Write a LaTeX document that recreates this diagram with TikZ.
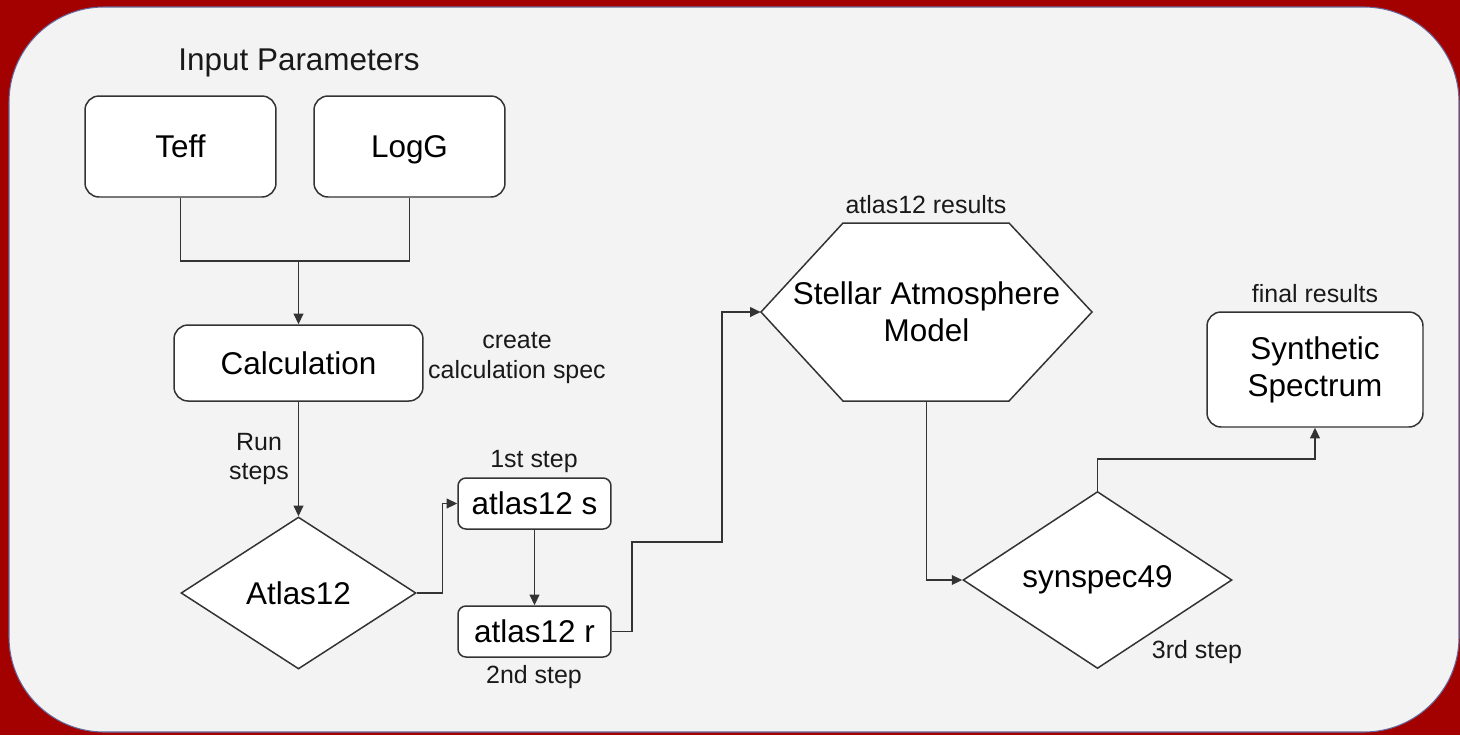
\documentclass[tikz,border=0pt]{standalone}
\usepackage{fontspec}
\setmainfont{Liberation Sans}
\usepackage{tikz}
\usetikzlibrary{arrows.meta, shapes.geometric, positioning}
\definecolor{slidered}{RGB}{163,0,0}
\definecolor{panelgray}{RGB}{243,243,243}
\definecolor{edgegray}{RGB}{51,51,51}
\newcommand{\bigtxt}{\fontsize{17.9pt}{21pt}\selectfont}
\newcommand{\smalltxt}{\fontsize{14.2pt}{17pt}\selectfont}

\begin{document}
\begin{tikzpicture}[x=0.02cm, y=-0.02cm,
  box/.style={rectangle, rounded corners=8pt, draw=edgegray, line width=0.85pt, fill=white, font=\bigtxt, align=center, inner sep=0pt},
  onerow/.style={text height=12.8pt, text depth=0pt},
  smallbox/.style={box, onerow, rounded corners=4.5pt, minimum width=3.06cm, minimum height=1.02cm},
  decision/.style={diamond, draw=edgegray, line width=0.85pt, fill=white, font=\bigtxt, inner sep=0pt},
  note/.style={font=\smalltxt, align=center, text=black!90},
  wire/.style={draw=edgegray, line width=0.85pt},
  arr/.style={wire, -{Triangle[length=6pt, width=5.5pt]}}
]
\useasboundingbox (0,0) rectangle (1460,735);
% --- slide background and panel ---
\fill[slidered] (0,0) rectangle (1460,735);
\draw[draw=gray!80!blue, line width=0.6pt, fill=panelgray, rounded corners=1.9cm] (9,7) rectangle (1459,732);

% --- input side ---
\node[font=\bigtxt, onerow, text=black!90] (title) at (299,59) {Input Parameters};
\node[box, onerow, minimum width=3.82cm, minimum height=2.02cm] (teff) at (180.5,146.5) {Teff};
\node[box, onerow, minimum width=3.82cm, minimum height=2.02cm] (logg) at (409.5,146.5) {LogG};
\coordinate (join) at (298.5,261);
\node[box, onerow, minimum width=4.98cm, minimum height=1.52cm] (calc) at (298.5,363) {Calculation};
\node[note] (spec) at (517,358) {create\\calculation spec};
\node[note] (run) at (259,459) {Run\\steps};
\node[decision, minimum width=4.7cm, minimum height=3.04cm, aspect=1.55] (atlas) at (298.5,593) {Atlas12};

% --- atlas12 steps ---
\node[smallbox] (s) at (534.5,503.5) {atlas12 s};
\node[note] (first) at (534,461) {1st step};
\node[smallbox] (r) at (534.5,631.5) {atlas12 r};
\node[note] (second) at (534,677) {2nd step};
\coordinate (up1) at (632,542);
\coordinate (up2) at (722,542);

% --- model and spectrum ---
\path[wire, fill=white] (761,312) -- (843,223) -- (1009,223) -- (1092,312)
  -- (1009,401) -- (843,401) -- cycle;
\node[font=\bigtxt, align=center, minimum width=6.62cm, minimum height=3.56cm, inner sep=0pt] (model) at (926.5,312) {Stellar Atmosphere\\Model};
\node[note] (modelres) at (926,205) {atlas12 results};
\node[decision, minimum width=5.38cm, minimum height=3.54cm, aspect=1.52] (synspec) at (1097.5,580) {synspec49};
\node[note] (third) at (1197,652) {3rd step};
\node[box, minimum width=4.32cm, minimum height=2.3cm] (synth) at (1315,369.5) {Synthetic\\Spectrum};
\node[note] (finalres) at (1315,294) {final results};

% --- connectors ---
\draw[wire] (teff.south) |- (join) -| (logg.south);
\draw[arr] (join) -- (calc.north);
\draw[arr] (calc.south) -- (atlas.north);
\draw[arr] (atlas.east) -- ++(26,0) |- (s.west);
\draw[arr] (s.south) -- (r.north);
\draw[arr] (r.east) -| (up1) -- (up2) |- (model.west);
\draw[arr] (model.south) |- (synspec.west);
\draw[arr] (synspec.north) -- ++(0,-32) -| (synth.south);
\end{tikzpicture}
\end{document}
